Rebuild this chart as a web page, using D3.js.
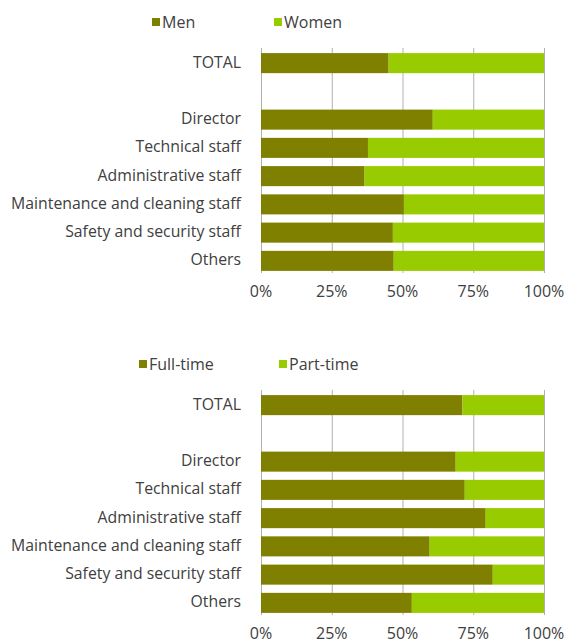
<!DOCTYPE html>
<html>
<head>
<meta charset="utf-8">
<script src="https://cdn.jsdelivr.net/npm/d3@7"></script>
<style>
  body { margin: 0; background: #fff; }
  text { font-family: "Open Sans", sans-serif; fill: #404040; }
</style>
</head>
<body>
<svg width="565" height="639"></svg>
<script>
// rows, top to bottom ('' is the blank spacer row)
var categories = ['TOTAL', '', 'Director', 'Technical staff', 'Administrative staff',
                  'Maintenance and cleaning staff', 'Safety and security staff', 'Others'];

var genderKeys = ['Men', 'Women'];
var menShare = [45.1, null, 60.7, 37.8, 36.6, 50.5, 46.6, 46.9];

var timeKeys = ['Full-time', 'Part-time'];
var fullTimeShare = [71.2, null, 68.8, 72.0, 79.4, 59.6, 81.9, 53.3];

var tickValues = [0, 25, 50, 75, 100];
var colors = ['#808000', '#99cc00'];

var svg = d3.select('svg');
var x = d3.scaleLinear().domain([0, 100]).range([261, 544]);

function drawChart(keys, shares, top, legendX) {
  var g = svg.append('g');

  var y = d3.scaleBand().domain(categories.map(function(d, i) { return i; }))
            .range([top, top + 226]).paddingInner(0.29).paddingOuter(0.145);

  // gridlines
  g.selectAll('line.grid').data(tickValues).enter()
    .append('line')
    .attr('x1', function(d) { return x(d) + 0.5; })
    .attr('x2', function(d) { return x(d) + 0.5; })
    .attr('y1', top - 1)
    .attr('y2', top + 224)
    .attr('stroke', '#b0b0b0')
    .attr('stroke-width', 1);

  var rows = categories.map(function(c, i) {
    return { i: i, label: c, a: shares[i], b: shares[i] == null ? null : 100 - shares[i] };
  }).filter(function(d) { return d.a != null; });

  var stack = d3.stack().keys(['a', 'b'])(rows);

  stack.forEach(function(layer, k) {
    g.selectAll('rect.s' + k).data(layer).enter()
      .append('rect')
      .attr('x', function(d) { return x(d[0]); })
      .attr('width', function(d) { return x(d[1]) - x(d[0]); })
      .attr('y', function(d) { return y(d.data.i); })
      .attr('height', y.bandwidth())
      .attr('fill', colors[k]);
  });

  // category labels
  g.selectAll('text.cat').data(categories).enter()
    .append('text')
    .attr('x', 241)
    .attr('y', function(d, i) { return y(i) + y.bandwidth() / 2 - 1; })
    .attr('dy', '0.35em')
    .attr('text-anchor', 'end')
    .style('font-size', '15.8px')
    .text(function(d) { return d; });

  // x axis labels
  g.selectAll('text.tick').data(tickValues).enter()
    .append('text')
    .attr('x', function(d) { return x(d); })
    .attr('y', top + 248)
    .attr('text-anchor', 'middle')
    .style('font-size', '16px')
    .text(function(d) { return d + '%'; });

  // legend
  keys.forEach(function(k, i) {
    var lx = legendX[i];
    g.append('rect')
      .attr('x', lx).attr('y', top - 31)
      .attr('width', 8).attr('height', 8)
      .attr('fill', colors[i]);
    g.append('text')
      .attr('x', lx + 10).attr('y', top - 27)
      .attr('dy', '0.35em')
      .style('font-size', '16px')
      .text(k);
  });
}

drawChart(genderKeys, menShare, 49, [152, 274]);
drawChart(timeKeys, fullTimeShare, 391, [139, 279]);
</script>
</body>
</html>
